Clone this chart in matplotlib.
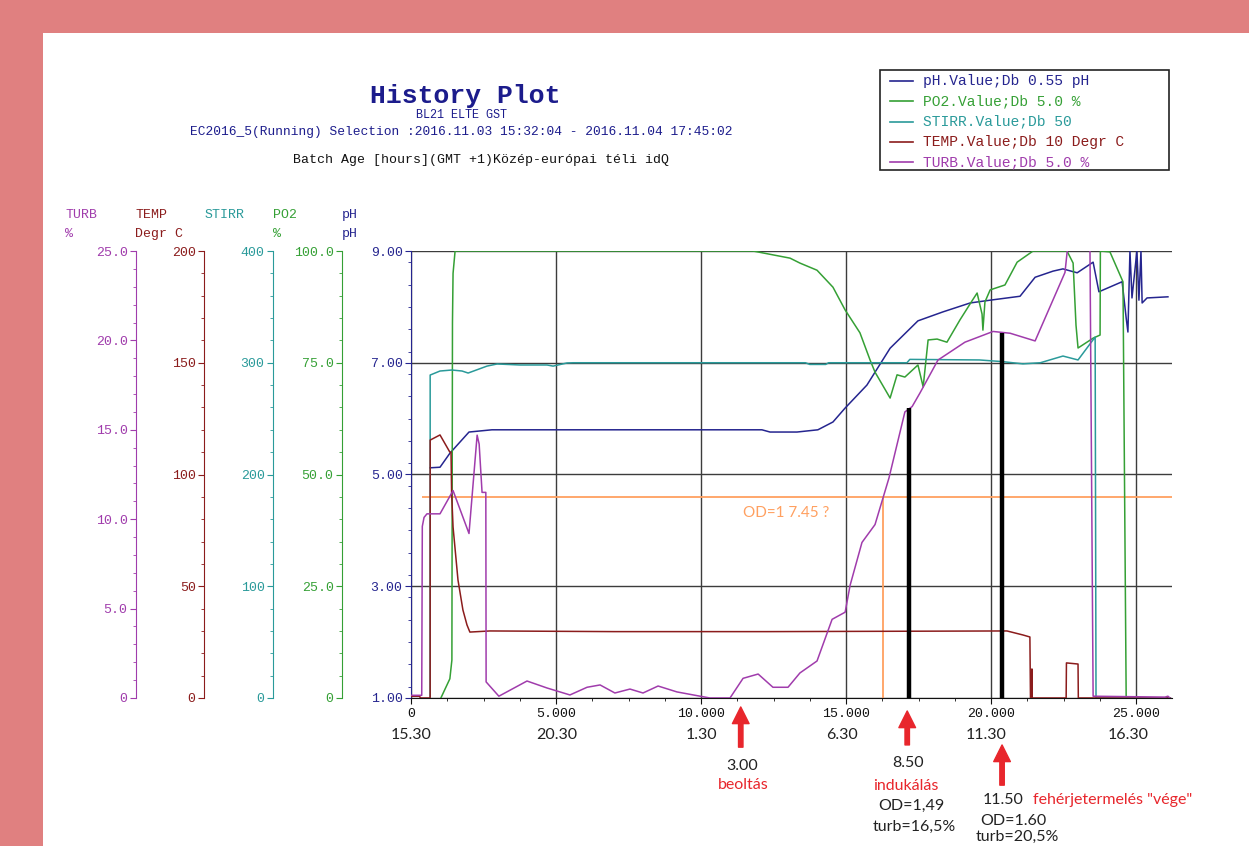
import matplotlib
matplotlib.use('Agg')
import matplotlib.pyplot as plt
from matplotlib.ticker import MultipleLocator, FixedLocator, FuncFormatter
from matplotlib.patches import Rectangle
from matplotlib.lines import Line2D

### data (x = batch age in hours)
ph_t = [0.66, 1.0, 1.34, 2.0, 2.79, 12.1, 12.38, 13.31, 14.03, 14.55, 14.97, 15.72, 16.52,
        17.48, 18.34, 19.28, 19.97, 21.0, 21.52, 22.14, 22.48, 22.97, 23.52, 23.72, 24.52,
        24.66, 24.72, 24.79, 24.86, 25.03, 25.1, 25.17, 25.21, 25.38, 26.1]
ph_v = [5.12, 5.13, 5.38, 5.76, 5.80, 5.80, 5.76, 5.76, 5.80, 5.94, 6.19, 6.60, 7.26,
        7.75, 7.91, 8.07, 8.12, 8.19, 8.53, 8.64, 8.68, 8.61, 8.80, 8.27, 8.45,
        7.80, 7.55, 9.00, 8.16, 9.00, 8.12, 9.00, 8.07, 8.16, 8.18]

po2_t = [1.03, 1.34, 1.41, 1.43, 1.45, 1.52, 11.79, 13.07, 13.41, 14.0, 14.55, 14.97, 15.48,
         15.83, 16.0, 16.52, 16.76, 17.03, 17.48, 17.66, 17.83, 18.14, 18.48, 18.93, 19.34,
         19.52, 19.69, 19.72, 19.79, 19.97, 20.48, 20.9, 21.45, 22.62, 22.83, 22.93, 23.0,
         23.52, 23.76, 23.77, 24.1, 24.45, 24.55, 24.66, 26.17]
po2_v = [0, 4.3, 8.5, 84, 95, 100, 100, 98.4, 97.3, 95.7, 91.9, 86.8, 81.7,
         75.6, 72.9, 67.1, 72.3, 71.8, 74.5, 69.6, 80.1, 80.3, 79.6, 84.6, 88.8,
         90.6, 85.9, 82.3, 88.6, 91.3, 92.4, 97.5, 100, 100, 97.3, 83.4, 78.3,
         80.5, 81.2, 100, 99.8, 94.6, 93.1, 0, 0]

stirr_t = [0.66, 0.661, 1.0, 1.41, 1.76, 1.97, 2.62, 2.97, 3.76, 4.69, 4.9, 5.38, 5.6,
           13.6, 13.75, 14.3, 14.4, 17.1, 17.2, 19.6, 20.4, 21.1, 21.7, 22.48, 23.0,
           23.59, 23.62, 26.17]
stirr_v = [0, 289, 292.6, 293.5, 292.6, 290.8, 297, 298.9, 298, 298, 297, 299.8, 300,
           300, 298.5, 298.5, 300, 300, 303, 302.5, 301, 299, 300, 306, 302.5,
           323, 0, 0]

temp_t = [0.0, 0.3, 0.32, 0.66, 0.661, 1.0, 1.34, 1.38, 1.40, 1.45, 1.62, 1.79, 1.93, 2.03,
          2.72, 7.0, 12.3, 20.55, 21.1, 21.34, 21.36, 21.40, 21.41, 21.42, 22.59, 22.6,
          23.0, 23.01, 26.17]
temp_v = [0.8, 0.8, 0, 0, 115.4, 117.7, 110, 110, 92, 76.5, 52.8, 39.4, 32.7, 29.5,
          30, 29.7, 29.7, 30, 28.2, 27.3, 0, 0, 13, 0, 0, 15.7,
          15.2, 0, 0]

turb_t = [0.0, 0.37, 0.39, 0.45, 0.55, 1.0, 1.45, 2.0, 2.28, 2.35, 2.45, 2.58, 2.59, 3.03,
          4.0, 4.69, 5.48, 6.07, 6.52, 7.03, 7.55, 8.0, 8.52, 9.17, 9.97, 10.31, 11.0,
          11.45, 11.97, 12.48, 13.0, 13.41, 14.0, 14.52, 14.97, 15.14, 15.55, 16.0, 16.48,
          17.03, 17.28, 17.55, 18.17, 19.1, 20.07, 20.66, 21.52, 22.55, 22.66, 23.41,
          23.52, 26.0, 26.1, 26.17]
turb_v = [0.15, 0.15, 9.6, 10.1, 10.3, 10.3, 11.6, 9.2, 14.7, 14.2, 11.5, 11.5, 0.9, 0.1,
          0.95, 0.56, 0.17, 0.6, 0.73, 0.28, 0.5, 0.28, 0.67, 0.34, 0.1, 0.0, 0.0,
          1.1, 1.34, 0.6, 0.6, 1.4, 2.07, 4.4, 4.8, 6.3, 8.7, 9.7, 12.3,
          16.0, 16.3, 17.06, 18.9, 19.9, 20.5, 20.4, 19.97, 23.8, 25.5, 25.5,
          0.1, 0.05, 0.1, 0.0]

# hand-drawn marks on the screenshot
od_level = 4.6          # orange line, pH scale
od_time = 16.29
bar_t = [17.17, 20.39]  # black bars up to turbidity
bar_turb = [16.2, 20.4]
clock_labels = ['15.30', '20.30', '1.30', '6.30', '11.30', '16.30']
clock_t = [0, 5.03, 10, 14.86, 19.83, 24.72]
ph_ticks = [1, 3, 5, 7, 9]

legend_names = ['pH.Value;Db 0.55 pH', 'PO2.Value;Db 5.0 %', 'STIRR.Value;Db 50',
                'TEMP.Value;Db 10 Degr C', 'TURB.Value;Db 5.0 %']

W, H = 1249, 846
MONO = 'Liberation Mono'
SANS = 'Lato'
PH_C, PO2_C, STIRR_C, TEMP_C, TURB_C = '#25258f', '#35a035', '#2a9a9a', '#8b1c1c', '#a03cac'
RED = '#e8262c'
ORANGE = '#ffa060'

fig = plt.figure(figsize=(W / 100, H / 100), dpi=100, facecolor='#e08080')
fig.add_artist(Rectangle((43 / W, 0), 1, 1 - 33 / H, transform=fig.transFigure,
                         facecolor='white', edgecolor='none', zorder=-1))

ax = fig.add_axes([411 / W, 1 - 698 / H, 761 / W, 447 / H])
ax.set_xlim(0, 26.24)
ax.set_ylim(1, 9)
ax.patch.set_visible(False)
for s in ['top', 'right']:
    ax.spines[s].set_visible(False)
ax.spines['left'].set_color(PH_C)
ax.spines['bottom'].set_color('#111111')
ax.xaxis.set_major_locator(MultipleLocator(5))
ax.xaxis.set_minor_locator(MultipleLocator(1.25))
ax.yaxis.set_major_locator(FixedLocator(ph_ticks))
ax.yaxis.set_minor_locator(MultipleLocator(0.4))
ax.xaxis.set_major_formatter(FuncFormatter(lambda v, p: '0' if v == 0 else '%.3f' % v))
ax.yaxis.set_major_formatter(FuncFormatter(lambda v, p: '%.2f' % v))
ax.tick_params(axis='y', which='both', colors=PH_C, labelsize=9.5, pad=2)
ax.tick_params(axis='x', which='both', colors='#111111', labelsize=9.5, pad=3)
ax.tick_params(which='major', length=4)
ax.tick_params(which='minor', length=2.2)
for lab in ax.get_xticklabels() + ax.get_yticklabels():
    lab.set_family(MONO)
ax.grid(True, which='major', color='#3c3c3c', lw=1.0)
ax.plot(ph_t, ph_v, color=PH_C, lw=1.1, zorder=3)
ax.hlines(od_level, 0.37, 26.24, color=ORANGE, lw=1.3, zorder=2)
ax.vlines(od_time, 1, od_level, color=ORANGE, lw=1.3, zorder=2)
ax.text(11.45, 4.31, 'OD=1 7.45 ?', color=ORANGE, fontsize=11, family=SANS, va='center')

# extra y axes on the left
axes_spec = [
    ('PO2', po2_t, po2_v, PO2_C, (0, 100), 25, 5, -0.0907, lambda v, p: '0' if v == 0 else '%.1f' % v),
    ('STIRR', stirr_t, stirr_v, STIRR_C, (0, 400), 100, 20, -0.1813, lambda v, p: '%d' % v),
    ('TEMP', temp_t, temp_v, TEMP_C, (0, 200), 50, 10, -0.272, lambda v, p: '%d' % v),
    ('TURB', turb_t, turb_v, TURB_C, (0, 25), 5, 1, -0.3614, lambda v, p: '0' if v == 0 else '%.1f' % v),
]
tw = {}
for name, t, v, c, lim, major, minor, off, fmt in axes_spec:
    a = ax.twinx()
    a.set_ylim(*lim)
    a.yaxis.tick_left()
    for s in ['top', 'right', 'bottom']:
        a.spines[s].set_visible(False)
    a.spines['left'].set_position(('axes', off))
    a.spines['left'].set_color(c)
    a.yaxis.set_major_locator(MultipleLocator(major))
    a.yaxis.set_minor_locator(MultipleLocator(minor))
    a.yaxis.set_major_formatter(FuncFormatter(fmt))
    a.tick_params(axis='y', which='both', colors=c, labelsize=9.5, pad=2)
    a.tick_params(which='major', length=4)
    a.tick_params(which='minor', length=2.2)
    for lab in a.get_yticklabels():
        lab.set_family(MONO)
    a.plot(t, v, color=c, lw=1.1)
    tw[name] = a

tw['TURB'].vlines(bar_t, 0, bar_turb, color='black', lw=3.2, zorder=4)

# header labels over the left axes
headers = [('TURB', '%', TURB_C, 65), ('TEMP', 'Degr C', TEMP_C, 135), ('STIRR', '', STIRR_C, 205),
           ('PO2', '%', PO2_C, 273), ('pH', 'pH', PH_C, 342)]
for top, unit, c, x in headers:
    fig.text(x / W, 1 - 215 / H, top, color=c, fontsize=9.5, family=MONO, va='center')
    fig.text(x / W, 1 - 234 / H, unit, color=c, fontsize=9.5, family=MONO, va='center')

# titles
fig.text(465 / W, 1 - 96 / H, 'History Plot', ha='center', va='center', color='#1c1c8c',
         fontsize=19, family=MONO, weight='bold')
fig.text(461 / W, 1 - 115 / H, 'BL21 ELTE GST', ha='center', va='center', color='#1c1c8c',
         fontsize=8.5, family=MONO)
fig.text(461 / W, 1 - 132 / H, 'EC2016_5(Running) Selection :2016.11.03 15:32:04 - 2016.11.04 17:45:02',
         ha='center', va='center', color='#1c1c8c', fontsize=9.3, family=MONO)
fig.text(481 / W, 1 - 160 / H, 'Batch Age [hours](GMT +1)Közép-európai téli idQ',
         ha='center', va='center', color='#111111', fontsize=9.5, family=MONO)

# legend box
fig.add_artist(Rectangle((880 / W, 1 - 170 / H), 289 / W, 100 / H, transform=fig.transFigure,
                         fill=False, edgecolor='#222222', lw=1.2))
for i, (name, c) in enumerate(zip(legend_names, [PH_C, PO2_C, STIRR_C, TEMP_C, TURB_C])):
    y = 1 - (81 + 20.3 * i) / H
    fig.add_artist(Line2D([890 / W, 913 / W], [y, y], color=c, lw=1.2, transform=fig.transFigure))
    fig.text(923 / W, y, name, color=c, fontsize=10.5, family=MONO, va='center')

# clock time labels and the hand annotations below the axis
xt = ax.get_xaxis_transform()
for lab, t in zip(clock_labels, clock_t):
    ax.text(t, -0.083, lab, transform=xt, ha='center', va='center', fontsize=11.5,
            family=SANS, color='#222222')

arrows = [(11.37, -0.11, -0.02), (17.11, -0.105, -0.029), (20.38, -0.195, -0.105)]
for x, y0, y1 in arrows:
    ax.annotate('', xy=(x, y1), xytext=(x, y0), xycoords=xt, textcoords=xt,
                annotation_clip=False,
                arrowprops=dict(facecolor=RED, edgecolor=RED, width=3.2, headwidth=12,
                                headlength=12, shrink=0))

notes = [
    (11.41, -0.152, '3.00', '#222222', 'center'),
    (11.45, -0.195, 'beoltás', RED, 'center'),
    (17.14, -0.145, '8.50', '#222222', 'center'),
    (17.07, -0.197, 'indukálás', RED, 'center'),
    (17.24, -0.242, 'OD=1,49', '#222222', 'center'),
    (17.34, -0.289, 'turb=16,5%', '#222222', 'center'),
    (20.41, -0.228, '11.50', '#222222', 'center'),
    (21.45, -0.228, 'fehérjetermelés "vége"', RED, 'left'),
    (20.76, -0.275, 'OD=1.60', '#222222', 'center'),
    (20.9, -0.311, 'turb=20,5%', '#222222', 'center'),
]
for x, y, s, c, ha in notes:
    ax.text(x, y, s, transform=xt, ha=ha, va='center', fontsize=11.5, family=SANS, color=c)

plt.savefig('out.png', dpi=100, facecolor=fig.get_facecolor())
